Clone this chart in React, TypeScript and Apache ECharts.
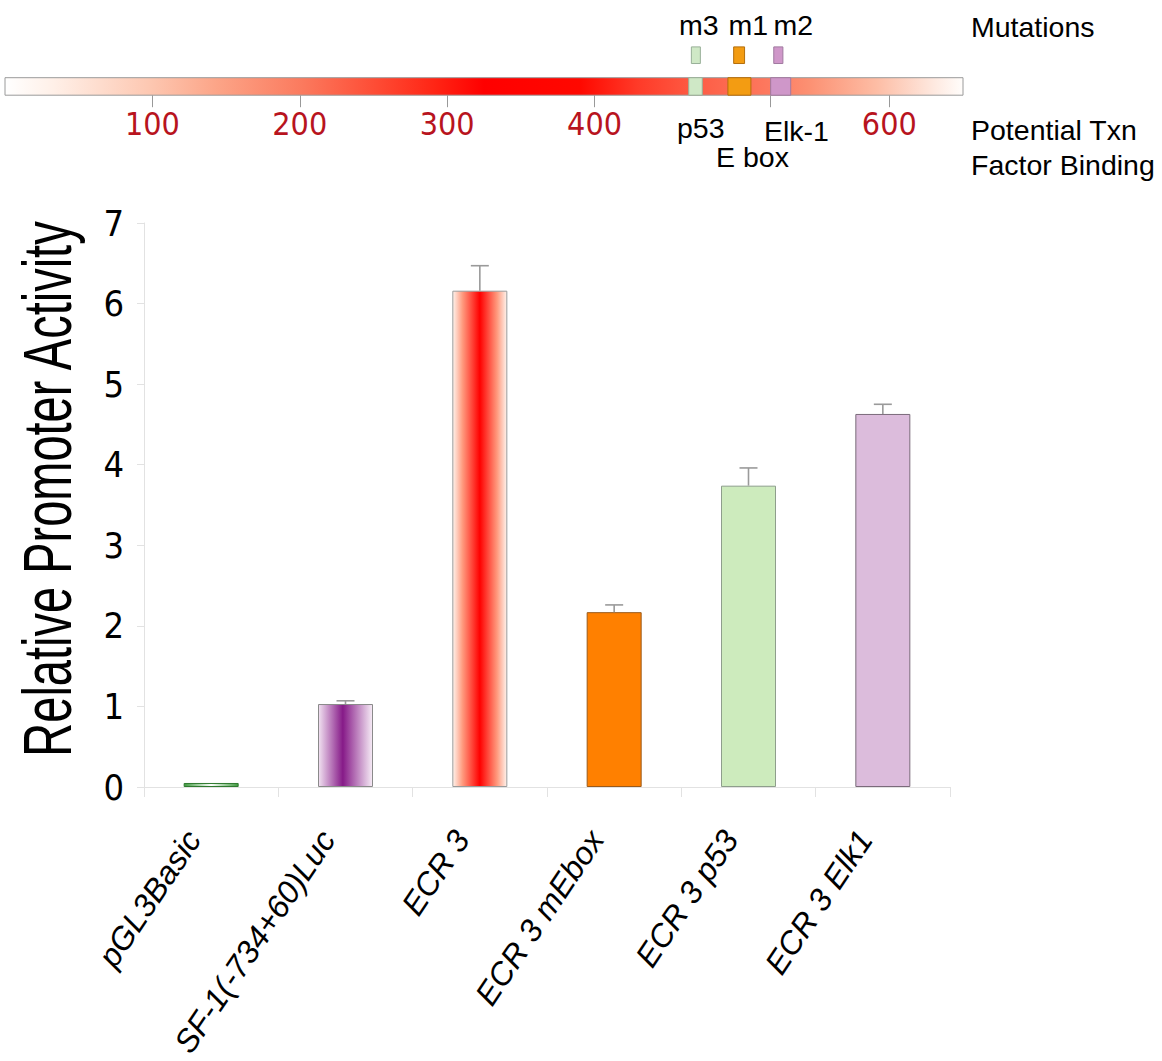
import React, { useEffect, useRef } from "react";
import * as echarts from "echarts";

// ---------- main bar chart data ----------
const categories = ["pGL3Basic", "SF-1(-734+60)Luc", "ECR 3", "ECR 3 mEbox", "ECR 3 p53", "ECR 3 Elk1"];
const activity = [0.05, 1.03, 6.16, 2.17, 3.74, 4.63];
const errorUp = [0, 0.04, 0.31, 0.09, 0.22, 0.12];
const yMin = 0;
const yMax = 7;
const yStep = 1;

// ---------- promoter map data ----------
const promoterLength = 650;
const mapTickLabels = [100, 200, 300, 400, 600];
const mapTickMarks = [100, 200, 300, 400, 519.5, 600];
const siteNames = ["p53", "E box", "Elk-1"];
const siteStart = [463.9, 490.5, 519.5];
const siteEnd = [473.1, 506.1, 533.1];
const mutationNames = ["m3", "m1", "m2"];
const mutationStart = [465.7, 494.4, 521.6];
const mutationEnd = [471.8, 501.8, 527.8];

// ---------- styles ----------
const SANS = '"Liberation Sans", Arial, Helvetica, sans-serif';
const NARROW = '"Liberation Sans Narrow", "Arial Narrow", "DejaVu Sans Condensed", sans-serif';

const lg = (stops: [number, string][]) =>
  new echarts.graphic.LinearGradient(0, 0, 1, 0, stops.map(([offset, color]) => ({ offset, color })));

const barFills: any[] = [
  lg([[0, "#3f9a3f"], [0.5, "#ffffff"], [1, "#3f9a3f"]]),
  lg([[0, "#f1e2f1"], [0.45, "#861a88"], [1, "#f6ecf6"]]),
  lg([[0, "#fff3ec"], [0.18, "#ff9a7e"], [0.5, "#ff0000"], [0.82, "#ff9a7e"], [1, "#fff3ec"]]),
  "#ff8000",
  "#cdebbd",
  "#dcbcdc",
];
const barBorders = ["#2f7a2f", "#8a8a8a", "#9a9a9a", "#9a5a1a", "#8e9e8c", "#7a6a7a"];
const siteFills = ["#cfe8c6", "#f39c12", "#cf97c9"];
const siteBorders = ["#98b098", "#b46e0c", "#a07aa0"];
const mapGradient = lg([
  [0, "#ffffff"],
  [0.05, "#fff0e8"],
  [0.15, "#fdc8b2"],
  [0.22, "#fca588"],
  [0.31, "#fb7a5e"],
  [0.39, "#fe4a33"],
  [0.45, "#ff2414"],
  [0.5, "#ff0000"],
  [0.6, "#ff0800"],
  [0.66, "#ff3a28"],
  [0.72, "#fd5c44"],
  [0.8, "#fd7a60"],
  [0.84, "#fc9173"],
  [0.91, "#fdbda5"],
  [0.97, "#fee9e0"],
  [1, "#fffdfb"],
]);

export default function App() {
  const ref = useRef<HTMLDivElement>(null);

  useEffect(() => {
    const chart = echarts.init(ref.current!, null, { renderer: "svg" });

    const text = (t: string, x: number, y: number, extra: any = {}) => ({
      type: "text",
      x,
      y,
      z: 100,
      style: {
        text: t,
        fontSize: 28.5,
        fontFamily: SANS,
        fill: "#000",
        textAlign: "left",
        textVerticalAlign: "middle",
        ...extra,
      },
    });

    const option: any = {
      animation: false,
      backgroundColor: "#ffffff",
      grid: [
        { left: 144, right: 212, top: 223, bottom: 271.5 },
        { left: 5, width: 958, top: 77.7, height: 17.5 },
      ],
      xAxis: [
        {
          gridIndex: 0,
          type: "category",
          data: categories,
          axisLine: { show: true, lineStyle: { color: "#e2e2e2", width: 1 } },
          axisTick: { show: true, length: 10, lineStyle: { color: "#e2e2e2" } },
          axisLabel: {
            interval: 0,
            rotate: 56,
            margin: 20,
            padding: [0, 32, 0, 0],
            color: "#000",
            fontSize: 32,
            fontStyle: "italic",
            fontFamily: SANS,
          },
          splitLine: { show: false },
        },
        {
          gridIndex: 1,
          type: "value",
          min: 0,
          max: promoterLength,
          position: "bottom",
          axisLine: { show: false },
          splitLine: { show: false },
          axisTick: {
            show: true,
            customValues: mapTickMarks,
            length: 12,
            lineStyle: { color: "#999", width: 1 },
          },
          axisLabel: {
            customValues: mapTickLabels,
            color: "#b8141e",
            fontSize: 32,
            fontFamily: NARROW,
            margin: 13,
          },
        },
      ],
      yAxis: [
        {
          gridIndex: 0,
          type: "value",
          min: yMin,
          max: yMax,
          interval: yStep,
          axisLine: { show: true, lineStyle: { color: "#e2e2e2", width: 1 } },
          axisTick: { show: true, length: 7, lineStyle: { color: "#e2e2e2" } },
          splitLine: { show: false },
          axisLabel: { color: "#000", fontSize: 36, fontFamily: NARROW, margin: 20 },
        },
        { gridIndex: 1, type: "value", min: 0, max: 1, show: false },
      ],
      series: [
        {
          type: "bar",
          xAxisIndex: 0,
          yAxisIndex: 0,
          barWidth: 55,
          data: activity.map((v, i) => ({
            value: v,
            itemStyle: { color: barFills[i], borderColor: barBorders[i], borderWidth: 1 },
          })),
          z: 2,
        },
        {
          type: "custom",
          xAxisIndex: 0,
          yAxisIndex: 0,
          z: 3,
          data: activity.map((v, i) => [i, v, errorUp[i]]),
          renderItem: (params: any, api: any) => {
            const x = api.value(0);
            const y = api.value(1);
            const e = api.value(2);
            if (!e) return null;
            const p0 = api.coord([x, y]);
            const p1 = api.coord([x, y + e]);
            const st = { stroke: "#9a9a9a", lineWidth: 1.6 };
            return {
              type: "group",
              children: [
                { type: "line", shape: { x1: p0[0], y1: p0[1], x2: p1[0], y2: p1[1] }, style: st },
                { type: "line", shape: { x1: p1[0] - 9, y1: p1[1], x2: p1[0] + 9, y2: p1[1] }, style: st },
              ],
            };
          },
        },
        // promoter map bar
        {
          type: "custom",
          xAxisIndex: 1,
          yAxisIndex: 1,
          z: 2,
          data: [[0, promoterLength]],
          renderItem: (params: any, api: any) => {
            const a = api.coord([api.value(0), 0]);
            const b = api.coord([api.value(1), 1]);
            return {
              type: "rect",
              shape: { x: a[0], y: b[1], width: b[0] - a[0], height: a[1] - b[1] },
              style: { fill: mapGradient, stroke: "#9a9a9a", lineWidth: 1 },
            };
          },
        },
        // binding sites
        {
          type: "custom",
          xAxisIndex: 1,
          yAxisIndex: 1,
          z: 3,
          data: siteNames.map((n, i) => [siteStart[i], siteEnd[i], i]),
          renderItem: (params: any, api: any) => {
            const i = api.value(2);
            const a = api.coord([api.value(0), 0]);
            const b = api.coord([api.value(1), 1]);
            return {
              type: "rect",
              shape: { x: a[0], y: b[1], width: b[0] - a[0], height: a[1] - b[1] },
              style: { fill: siteFills[i], stroke: siteBorders[i], lineWidth: 1 },
            };
          },
        },
        // mutation boxes
        {
          type: "custom",
          xAxisIndex: 1,
          yAxisIndex: 1,
          z: 3,
          clip: false,
          data: mutationNames.map((n, i) => [mutationStart[i], mutationEnd[i], i]),
          renderItem: (params: any, api: any) => {
            const i = api.value(2);
            const a = api.coord([api.value(0), 1.81]);
            const b = api.coord([api.value(1), 2.76]);
            return {
              type: "rect",
              shape: { x: a[0], y: b[1], width: b[0] - a[0], height: a[1] - b[1] },
              style: { fill: siteFills[i], stroke: siteBorders[i], lineWidth: 1 },
            };
          },
        },
      ],
      graphic: [
        text("Mutations", 971, 27),
        text(mutationNames[0], 679, 25),
        text(mutationNames[1], 728.5, 25),
        text(mutationNames[2], 773.5, 25),
        text(siteNames[0], 677, 128),
        text(siteNames[2], 764, 130.5),
        text(siteNames[1], 716, 156.5),
        text("Potential Txn", 971, 130),
        text("Factor Binding", 971, 164.5),
        {
          type: "text",
          x: 47,
          y: 489,
          rotation: Math.PI / 2,
          scaleX: 1,
          scaleY: 1.45,
          z: 100,
          style: {
            text: "Relative Promoter Activity",
            fontSize: 47,
            fontFamily: SANS,
            fill: "#000",
            textAlign: "center",
            textVerticalAlign: "middle",
          },
        },
      ],
    };

    chart.setOption(option);
    return () => chart.dispose();
  }, []);

  return (
    <div
      ref={ref}
      style={{ position: "absolute", left: 0, top: 0, width: 1162, height: 1061, background: "#fff" }}
    />
  );
}
